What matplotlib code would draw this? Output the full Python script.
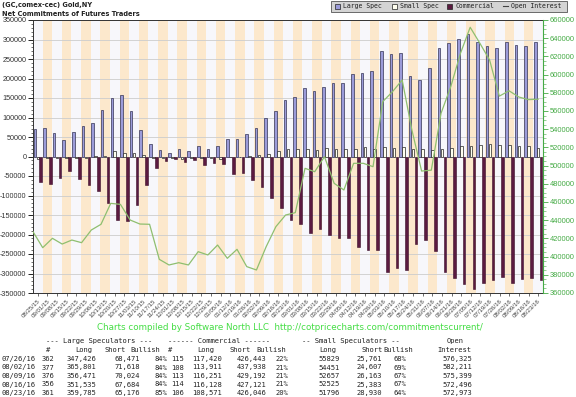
import matplotlib
matplotlib.use("Agg")
import matplotlib.pyplot as plt
import numpy as np
from matplotlib.patches import Rectangle
from matplotlib.ticker import MultipleLocator, FuncFormatter
import datetime as dt

# ---------------- data ----------------
start = dt.date(2015, 8, 25)
dates = [(start + dt.timedelta(weeks=i)).strftime("%m/%d/%y") for i in range(53)]

large_spec = [70000, 73600, 59000, 42000, 62500, 77000, 87000, 119000, 150700, 157500,
              116000, 69000, 33000, 16000, 9400, 20500, 14500, 27000, 19700, 26500,
              45000, 43600, 58000, 72700, 97600, 116000, 145500, 151500, 174600, 168700,
              178000, 189000, 189000, 212000, 215000, 220000, 270000, 263500, 265000, 206000,
              196600, 226000, 277700, 290500, 300800, 313600, 294000, 282800, 278955, 294183,
              286447, 283851, 294609]
small_spec = [-6000, -4000, -3000, -5000, -5000, -3000, 2000, 1000, 13000, 9000,
              9000, 4000, -4000, -3000, -4000, -6000, -5000, -4000, -3500, -6000,
              -1500, -1500, 2500, 4500, 6000, 15000, 18500, 19500, 20500, 16500,
              21000, 19000, 18000, 19000, 23500, 19000, 25000, 21000, 25000, 19500,
              18000, 17000, 19000, 22000, 27000, 27500, 30500, 32000, 30068, 29844,
              26494, 27142, 22866]
commercial = [-65000, -70000, -56400, -36000, -57000, -73500, -89000, -118700, -164000, -166000,
              -125000, -71800, -29000, -12800, -6000, -13500, -9000, -23000, -16200, -18700,
              -44000, -42000, -60700, -77700, -106000, -133000, -164000, -171800, -195600, -185400,
              -201800, -208500, -207700, -232500, -240000, -240000, -296600, -285400, -291500, -225600,
              -214600, -242800, -296600, -312800, -328000, -341000, -325600, -315400, -309023, -324027,
              -312941, -310993, -317475]
open_interest = [427400, 409800, 420100, 413800, 418200, 415300, 429200, 435500, 458500, 457400,
                 440200, 435800, 435500, 397000, 390800, 393300, 390800, 405400, 401800, 412700,
                 398100, 408000, 389000, 385300, 410900, 432900, 445700, 448300, 497000, 493300,
                 509800, 480500, 473200, 502500, 502500, 498800, 570300, 581200, 594100, 539100,
                 494000, 495000, 557500, 586700, 623400, 652000, 634400, 616000, 576325, 582211,
                 575399, 572496, 572973]

table_dates = ["07/26/16", "08/02/16", "08/09/16", "08/16/16", "08/23/16"]
ls_n = ["362", "377", "376", "356", "361"]
ls_long = ["347,426", "365,801", "356,471", "351,535", "359,785"]
ls_short = ["68,471", "71,618", "70,024", "67,684", "65,176"]
ls_bull = ["84%", "84%", "84%", "84%", "85%"]
cm_n = ["115", "108", "113", "114", "106"]
cm_long = ["117,420", "113,911", "116,251", "116,128", "108,571"]
cm_short = ["426,443", "437,938", "429,192", "427,121", "426,046"]
cm_bull = ["22%", "21%", "21%", "21%", "20%"]
ss_long = ["55829", "54451", "52657", "52525", "51796"]
ss_short = ["25,761", "24,607", "26,163", "25,383", "28,930"]
ss_bull = ["68%", "69%", "67%", "67%", "64%"]
oi_tab = ["576,325", "582,211", "575,399", "572,496", "572,973"]

# ---------------- figure ----------------
W, H = 576, 397
fig = plt.figure(figsize=(W / 100, H / 100), dpi=100)
fig.patch.set_facecolor("white")

def fx(px):
    return px / W

def fy(py):
    return 1 - py / H

ax_l, ax_r, ax_t, ax_b = 33, 543, 20, 293
ax = fig.add_axes([fx(ax_l), fy(ax_b), fx(ax_r) - fx(ax_l), fy(ax_t) - fy(ax_b)])
n = len(dates)
x = np.arange(n)

# stripes
for i in range(n):
    c = "#fce8cc" if i % 2 == 1 else "#f7f7fb"
    ax.axvspan(i - 0.5, i + 0.5, color=c, zorder=0, lw=0)

ax.set_xlim(-0.5, n - 0.5)
ax.set_ylim(-350000, 350000)
ax.yaxis.set_major_locator(MultipleLocator(50000))
ax.yaxis.set_minor_locator(MultipleLocator(10000))
ax.grid(axis="y", which="major", color="#cccccc", lw=0.6, zorder=1)
ax.axhline(0, color="#999999", lw=0.6, zorder=1)

bw = 0.27
ax.bar(x - 0.31, large_spec, width=bw, color="#9b9bd9", edgecolor="#333355", lw=0.5, zorder=3)
ax.bar(x, small_spec, width=bw, color="#fffff0", edgecolor="#222222", lw=0.5, zorder=3)
ax.bar(x + 0.31, commercial, width=bw, color="#5b1a40", edgecolor="#3a0d28", lw=0.4, zorder=3)

tickfont = "Liberation Sans"
ax.set_xticks(x)
ax.set_xticklabels(dates, rotation=45, ha="right", va="top", rotation_mode="anchor",
                   fontsize=4.4, color="#444444", family=tickfont)
ax.tick_params(axis="x", length=2.5, width=0.5, pad=1.5, color="#333333")
ax.tick_params(axis="y", which="major", length=3.5, width=0.6, labelsize=5.2,
               labelcolor="#333333", pad=1.2)
ax.tick_params(axis="y", which="minor", length=1.8, width=0.4)
ax.yaxis.set_major_formatter(FuncFormatter(lambda v, p: f"{int(v)}"))
for lab in ax.get_yticklabels():
    lab.set_family(tickfont)
for s in ax.spines.values():
    s.set_color("#333333")
    s.set_linewidth(0.7)

# open interest on right axis
ax2 = ax.twinx()
ax2.set_ylim(360000, 660000)
ax2.yaxis.set_major_locator(MultipleLocator(20000))
ax2.yaxis.set_minor_locator(MultipleLocator(5000))
x_oi = np.linspace(-0.5, n - 1, n)
ax2.plot(x_oi, open_interest, color="#8fbf6f", lw=0.9, zorder=5)
ax2.tick_params(axis="y", which="major", length=3.5, width=0.6, labelsize=5.4,
                labelcolor="#44aa44", color="#44aa44", pad=1.5)
ax2.tick_params(axis="y", which="minor", length=1.8, width=0.4, color="#44aa44")
ax2.yaxis.set_major_formatter(FuncFormatter(lambda v, p: f"{int(v)}"))
for lab in ax2.get_yticklabels():
    lab.set_family(tickfont)
ax2.spines["right"].set_color("#44aa44")
for k in ["left", "top", "bottom"]:
    ax2.spines[k].set_visible(False)

# titles
fig.text(fx(2), fy(5), "(GC,comex-cec) Gold,NY", fontsize=4.8, fontweight="bold",
         color="#222222", va="center", ha="left")
fig.text(fx(2), fy(13.5), "Net Commitments of Futures Traders", fontsize=4.8, fontweight="bold",
         color="#222222", va="center", ha="left")

# legend box
lx0, lx1, ly0, ly1 = 331, 567, 0.5, 12
fig.patches.append(Rectangle((fx(lx0), fy(ly1)), fx(lx1) - fx(lx0), fy(ly0) - fy(ly1),
                             transform=fig.transFigure, facecolor="#d4d4d4",
                             edgecolor="#555555", lw=0.6))
items = [(335, "Large Spec", "#9b9bd9", "s"), (392, "Small Spec", "#fffff0", "s"),
         (447, "Commercial", "#5b1a40", "s"), (503, "Open Interest", "#8fbf6f", "-")]
for px, lab, col, kind in items:
    if kind == "s":
        fig.patches.append(Rectangle((fx(px), fy(8.5)), fx(4.5), fy(3.5) - fy(8.5),
                                     transform=fig.transFigure, facecolor=col,
                                     edgecolor="#222222", lw=0.5))
    else:
        fig.lines.append(plt.Line2D([fx(px), fx(px + 5)], [fy(6), fy(6)],
                                    transform=fig.transFigure, color="#444444", lw=0.8))
    fig.text(fx(px + 8), fy(6), lab, fontsize=4.7, family="DejaVu Sans Mono",
             color="#222222", va="center", ha="left")

# credits
fig.text(fx(290), fy(328), "Charts compiled by Software North LLC  http://cotpricecharts.com/commitmentscurrent/",
         fontsize=6.3, color="#44dd44", ha="center", va="center")

# table
mono = dict(fontsize=5.1, family="DejaVu Sans Mono", color="#222222", va="center")
fig.text(fx(46), fy(341), "--- Large Speculators ---", ha="left", **mono)
fig.text(fx(168), fy(341), "------ Commercial ------", ha="left", **mono)
fig.text(fx(302), fy(341), "-- Small Speculators --", ha="left", **mono)
fig.text(fx(464), fy(341), "Open", ha="right", **mono)

cols_r = [54, 96, 140, 167, 184, 222, 266, 288, 340, 382, 406, 472]
hdr = ["#", "Long", "Short", "Bullish", "#", "Long", "Short", "Bullish",
       "Long", "Short", "Bullish", "Interest"]
hdr_r = [50, 92, 126, 160, 172, 214, 251, 286, 336, 383, 413, 471]
for r, h in zip(hdr_r, hdr):
    fig.text(fx(r), fy(350), h, ha="right", **mono)

rows_y = [359, 367.5, 376, 384.5, 393]
for k in range(5):
    yy = fy(rows_y[k])
    fig.text(fx(2), yy, table_dates[k], ha="left", **mono)
    vals = [ls_n[k], ls_long[k], ls_short[k], ls_bull[k], cm_n[k], cm_long[k], cm_short[k],
            cm_bull[k], ss_long[k], ss_short[k], ss_bull[k], oi_tab[k]]
    for r, v in zip(cols_r, vals):
        fig.text(fx(r), yy, v, ha="right", **mono)

fig.savefig("out.png", dpi=100)
